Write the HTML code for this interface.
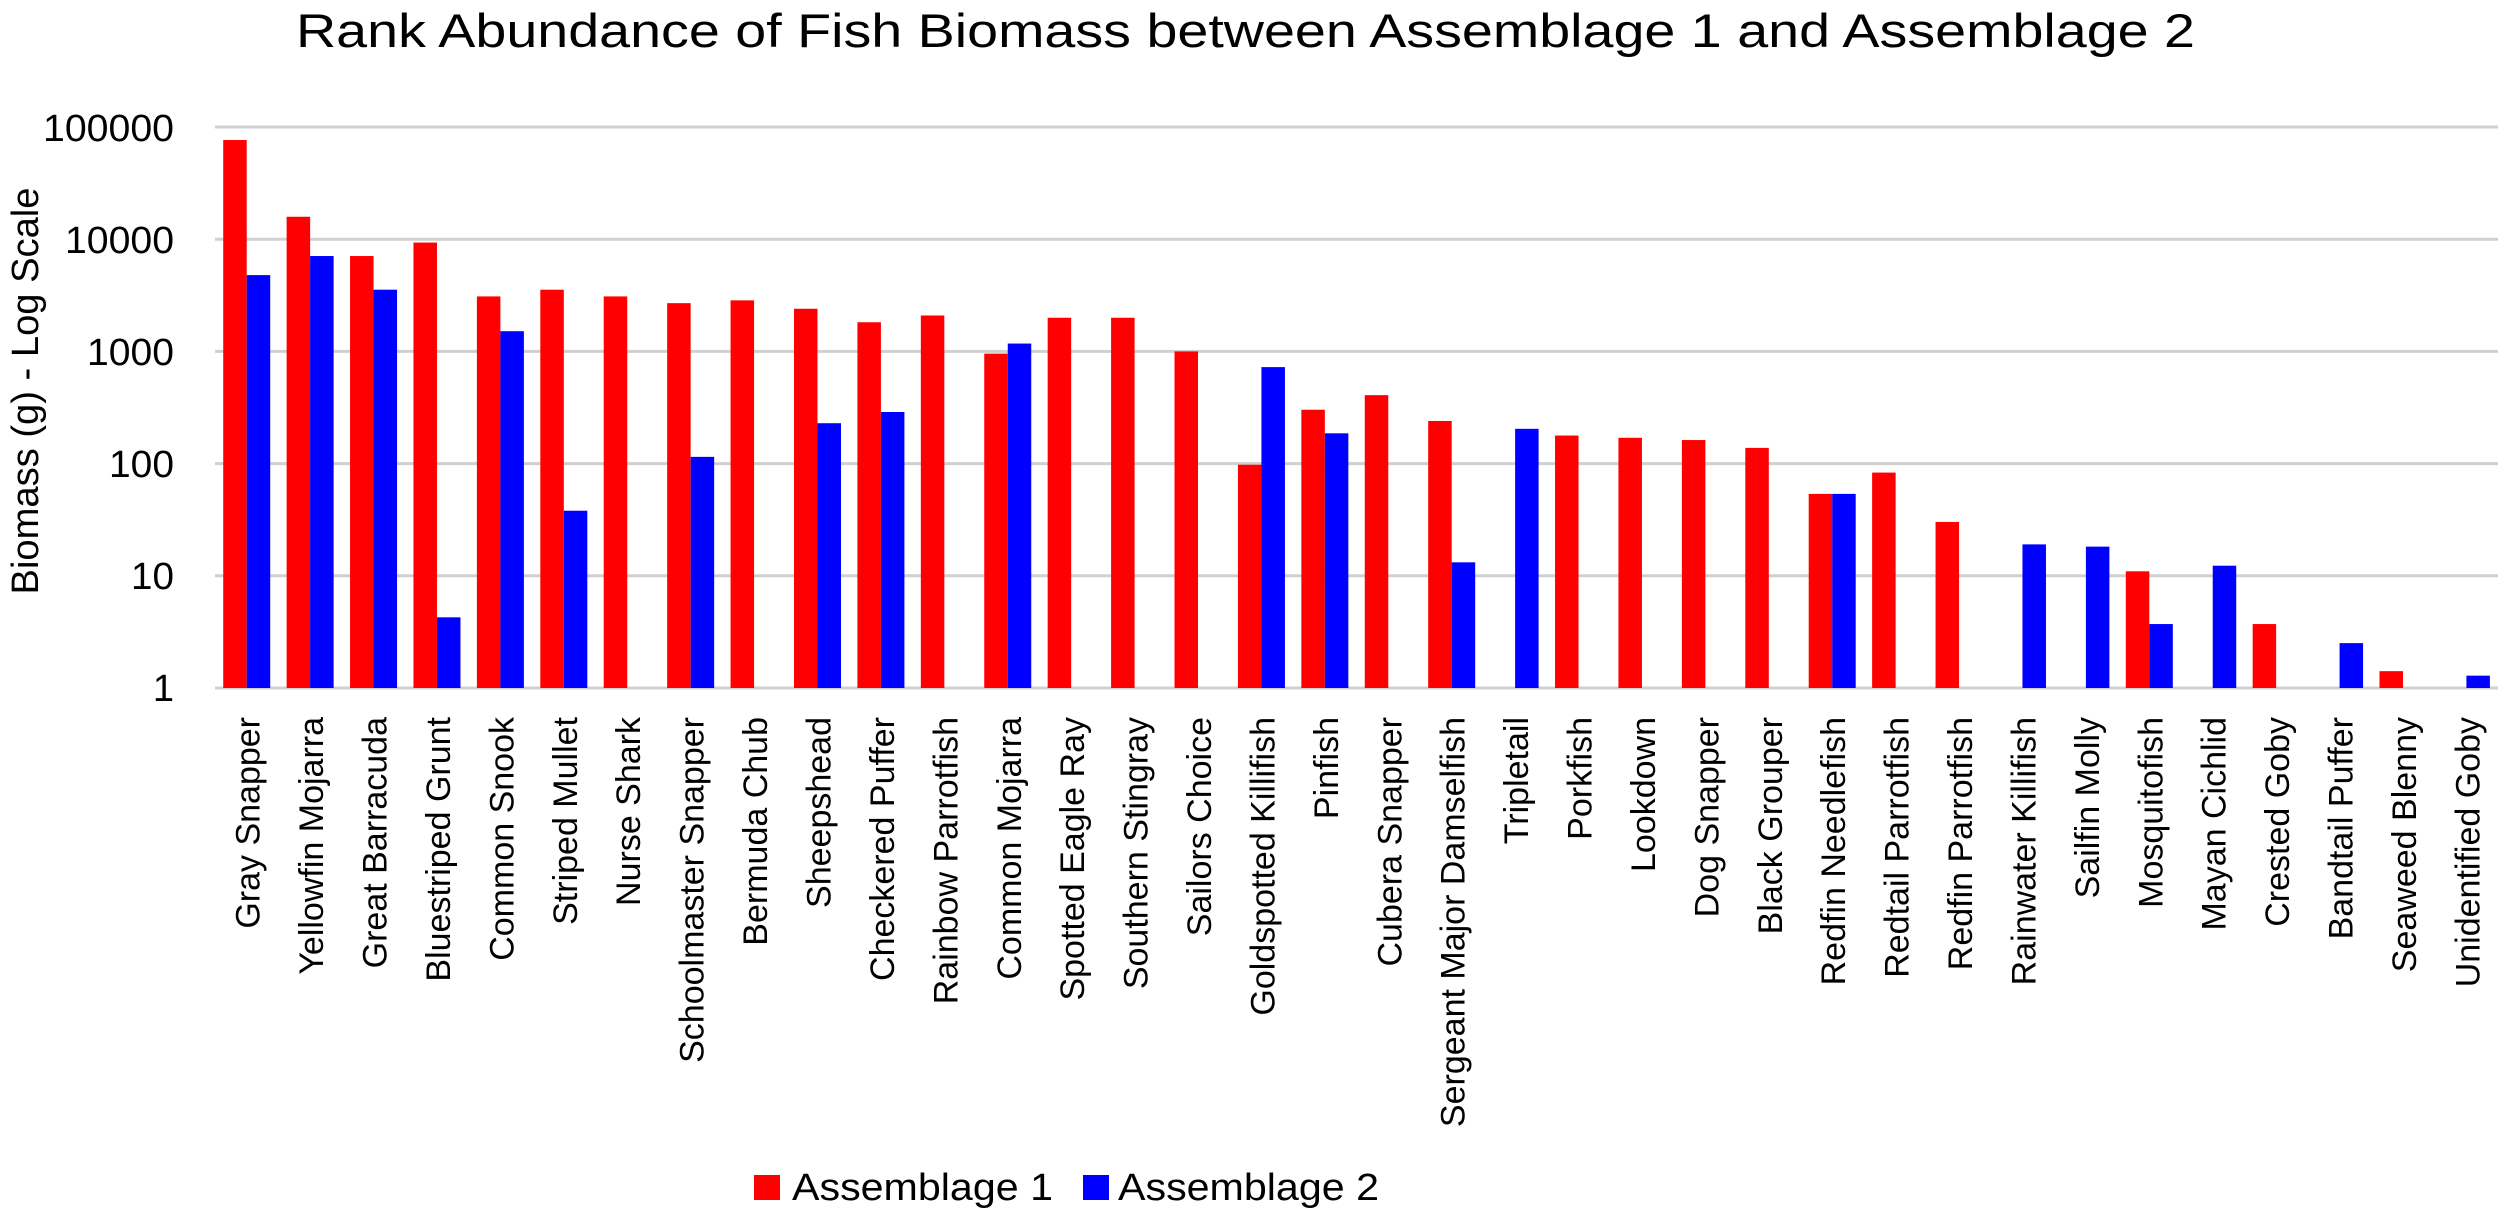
<!DOCTYPE html>
<html><head><meta charset="utf-8"><style>html,body{margin:0;padding:0;background:#fff}svg{display:block}</style></head>
<body>
<svg xmlns="http://www.w3.org/2000/svg" width="2500" height="1212" viewBox="0 0 2500 1212" font-family="Liberation Sans, sans-serif">
<rect width="2500" height="1212" fill="#fff"/>
<text x="296" y="47" font-size="47" textLength="1899" lengthAdjust="spacingAndGlyphs" fill="#000">Rank Abundance of Fish Biomass between Assemblage 1 and Assemblage 2</text>
<g stroke="#d0d0d0" stroke-width="3">
<line x1="215" x2="2498" y1="127" y2="127"/>
<line x1="215" x2="2498" y1="239.2" y2="239.2"/>
<line x1="215" x2="2498" y1="351.4" y2="351.4"/>
<line x1="215" x2="2498" y1="463.6" y2="463.6"/>
<line x1="215" x2="2498" y1="575.8" y2="575.8"/>
<line x1="215" x2="2498" y1="688" y2="688"/>
</g>
<g font-size="38" text-anchor="end" fill="#000">
<text x="174" y="141" textLength="131" lengthAdjust="spacingAndGlyphs">100000</text>
<text x="174" y="253" textLength="109" lengthAdjust="spacingAndGlyphs">10000</text>
<text x="174" y="365" textLength="87" lengthAdjust="spacingAndGlyphs">1000</text>
<text x="174" y="477" textLength="65" lengthAdjust="spacingAndGlyphs">100</text>
<text x="174" y="589" textLength="43" lengthAdjust="spacingAndGlyphs">10</text>
<text x="174" y="701">1</text>
</g>
<text transform="translate(38,391) rotate(-90)" font-size="38" text-anchor="middle" textLength="407" lengthAdjust="spacingAndGlyphs" fill="#000">Biomass (g) - Log Scale</text>
<g id="bars"></g>
<g id="labels" font-size="34" text-anchor="end" fill="#000"></g>
<rect x="754" y="1175" width="26" height="25" fill="#f00"/>
<text x="792" y="1200" font-size="38" textLength="261" lengthAdjust="spacingAndGlyphs" fill="#000">Assemblage 1</text>
<rect x="1083" y="1175" width="26" height="25" fill="#00f"/>
<text x="1118" y="1200" font-size="38" textLength="261" lengthAdjust="spacingAndGlyphs" fill="#000">Assemblage 2</text>
<script>
var d=[["Gray Snapper",4.884,3.68],["Yellowfin Mojarra",4.2,3.85],["Great Barracuda",3.85,3.55],["Bluestriped Grunt",3.97,0.63],["Common Snook",3.49,3.18],["Striped Mullet",3.55,1.58],["Nurse Shark",3.49,null],["Schoolmaster Snapper",3.43,2.06],["Bermuda Chub",3.455,null],["Sheepshead",3.38,2.36],["Checkered Puffer",3.26,2.46],["Rainbow Parrotfish",3.32,null],["Common Mojarra",2.98,3.07],["Spotted Eagle Ray",3.3,null],["Southern Stingray",3.3,null],["Sailors Choice",3.0,null],["Goldspotted Killifish",1.99,2.86],["Pinfish",2.48,2.27],["Cubera Snapper",2.61,null],["Sergeant Major Damselfish",2.38,1.12],["Tripletail",null,2.31],["Porkfish",2.25,null],["Lookdown",2.23,null],["Dog Snapper",2.21,null],["Black Grouper",2.14,null],["Redfin Needlefish",1.73,1.73],["Redtail Parrotfish",1.92,null],["Redfin Parrotfish",1.48,null],["Rainwater Killifish",null,1.28],["Sailfin Molly",null,1.26],["Mosquitofish",1.04,0.57],["Mayan Cichlid",null,1.09],["Crested Goby",0.57,null],["Bandtail Puffer",null,0.4],["Seaweed Blenny",0.15,null],["Unidentified Goby",null,0.11]];
var ns="http://www.w3.org/2000/svg",B=document.getElementById("bars"),L=document.getElementById("labels");
d.forEach(function(r,i){var c=215+(i+0.5)*63.42;
[[r[1],c-23.5,"#f00"],[r[2],c,"#00f"]].forEach(function(b){if(b[0]==null)return;var y=688-b[0]*112.2;var e=document.createElementNS(ns,"rect");e.setAttribute("x",b[1]);e.setAttribute("y",y);e.setAttribute("width",23.5);e.setAttribute("height",688-y);e.setAttribute("fill",b[2]);B.appendChild(e);});
var t=document.createElementNS(ns,"text");t.setAttribute("transform","translate("+(c+13)+",717) rotate(-90)");t.textContent=r[0];L.appendChild(t);});
</script>
</svg>
</body></html>
